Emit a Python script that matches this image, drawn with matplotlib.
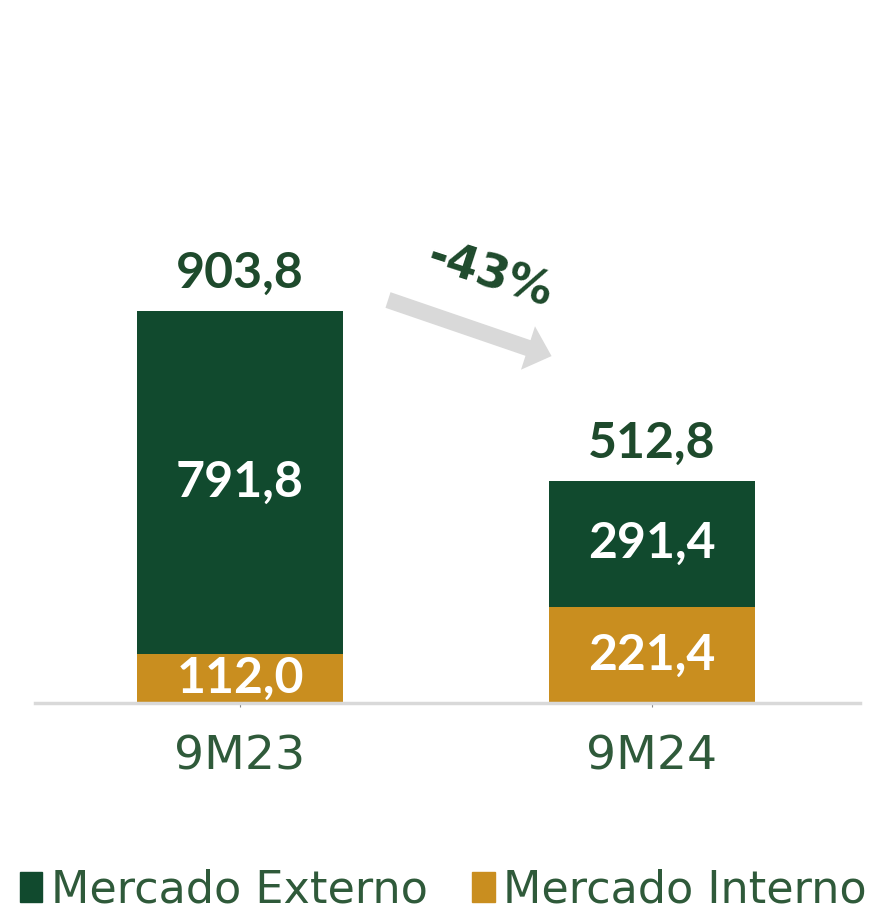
import matplotlib
matplotlib.use("Agg")
import matplotlib.pyplot as plt
from matplotlib.patches import Patch, FancyArrow

periods = ["9M23", "9M24"]
externo = [791.8, 291.4]
interno = [112.0, 221.4]
totals = [903.8, 512.8]
change_label = "-43%"

GREEN = "#114A2E"
GOLD = "#C98E1F"
TEXT_GREEN = "#1E4A2C"
GREY = "#D9D9D9"

plt.rcParams["font.family"] = ["Lato", "DejaVu Sans"]

fig = plt.figure(figsize=(8.87, 9.15), dpi=100)
ax = fig.add_axes([35 / 887, 212 / 915, 825 / 887, 703 / 915])

x = range(len(periods))
ax.bar(x, interno, width=0.5, color=GOLD, label="Mercado Interno")
ax.bar(x, externo, width=0.5, bottom=interno, color=GREEN, label="Mercado Externo")

for i in x:
    ax.text(i, interno[i] / 2, f"{interno[i]:.1f}".replace(".", ","), ha="center", va="center",
            color="white", fontsize=36, fontweight="bold")
    ax.text(i, interno[i] + externo[i] / 2, f"{externo[i]:.1f}".replace(".", ","), ha="center",
            va="center", color="white", fontsize=36, fontweight="bold")
    ax.text(i, totals[i] + 35, f"{totals[i]:.1f}".replace(".", ","), ha="center", va="bottom",
            color=TEXT_GREEN, fontsize=36, fontweight="bold")

ax.set_xlim(-0.4976, 1.505)
ax.set_ylim(0, 1621)
for s in ["top", "right", "left"]:
    ax.spines[s].set_visible(False)
ax.spines["bottom"].set_color(GREY)
ax.spines["bottom"].set_linewidth(2.5)
ax.set_yticks([])
ax.set_xticks(list(x))
ax.set_xticklabels(periods, fontsize=34, color="#2F5A3A", family="DejaVu Sans")
ax.tick_params(axis="x", length=3, color="#888888", pad=20)

# change arrow
fig.patches.append(FancyArrow(388 / 887, 1 - 300 / 915, 140 / 887, -48 / 915, width=0.018,
                              head_width=0.05, head_length=0.028, length_includes_head=False,
                              color=GREY, transform=fig.transFigure, lw=0))
fig.text(490 / 887, 1 - 276 / 915, change_label, ha="center", va="center", rotation=-18,
         fontsize=33, fontweight="bold", color=TEXT_GREEN, family="DejaVu Sans")

handles = [Patch(color=GREEN, label="Mercado Externo"), Patch(color=GOLD, label="Mercado Interno")]
fig.legend(handles=handles, loc="lower center", bbox_to_anchor=(0.5, -0.04), ncol=2, frameon=False,
           prop={"family": "DejaVu Sans", "size": 32}, handlelength=0.5, handleheight=0.65,
           handletextpad=0.2, columnspacing=1.0, labelcolor="#2F5A3A")

fig.savefig("out.png", dpi=100)
